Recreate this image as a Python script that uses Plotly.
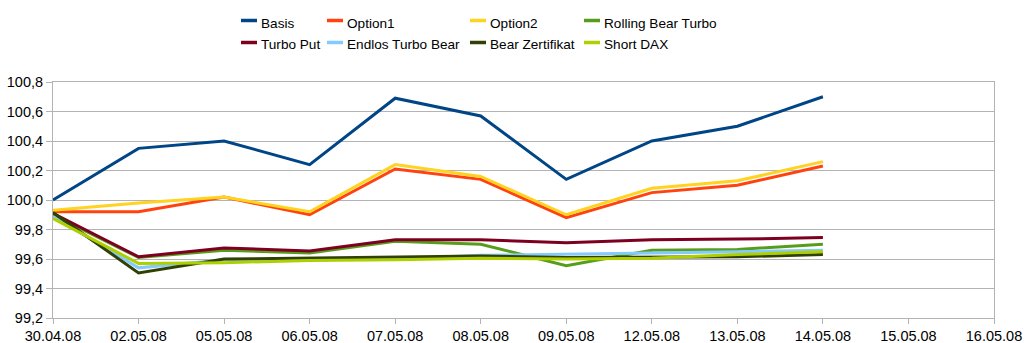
import plotly.graph_objects as go

all_dates = ["30.04.08", "02.05.08", "05.05.08", "06.05.08", "07.05.08", "08.05.08",
             "09.05.08", "12.05.08", "13.05.08", "14.05.08", "15.05.08", "16.05.08"]
data_dates = all_dates[:10]

basis = [100.00, 100.35, 100.40, 100.24, 100.69, 100.57, 100.14, 100.40, 100.50, 100.70]
option1 = [99.92, 99.92, 100.02, 99.90, 100.21, 100.14, 99.88, 100.05, 100.10, 100.23]
option2 = [99.93, 99.98, 100.02, 99.92, 100.24, 100.16, 99.90, 100.08, 100.13, 100.26]
rolling_bear_turbo = [99.90, 99.61, 99.66, 99.64, 99.72, 99.70, 99.555, 99.66, 99.665, 99.70]
turbo_put = [99.91, 99.615, 99.675, 99.655, 99.73, 99.73, 99.71, 99.73, 99.735, 99.745]
endlos_turbo_bear = [99.89, 99.54, 99.595, 99.60, 99.60, 99.625, 99.63, 99.64, 99.65, 99.66]
bear_zertifikat = [99.915, 99.505, 99.60, 99.605, 99.615, 99.62, 99.61, 99.615, 99.615, 99.63]
short_dax = [99.875, 99.57, 99.575, 99.59, 99.595, 99.605, 99.60, 99.605, 99.63, 99.65]

series = [
    ("Basis", basis, "#004586"),
    ("Option1", option1, "#FF420E"),
    ("Option2", option2, "#FFD320"),
    ("Rolling Bear Turbo", rolling_bear_turbo, "#579D1C"),
    ("Turbo Put", turbo_put, "#7E0021"),
    ("Endlos Turbo Bear", endlos_turbo_bear, "#83CAFF"),
    ("Bear Zertifikat", bear_zertifikat, "#314004"),
    ("Short DAX", short_dax, "#AECF00"),
]

W, H = 1029, 343
ML, MR, MT, MB = 53, 35, 82, 25
PW, PH = W - ML - MR, H - MT - MB
FONT = "Liberation Sans, Arial, sans-serif"


def px_x(p):
    return (p - ML) / PW


def px_y(p):
    return (H - MB - p) / PH


# manual legend layout (pixels): swatch left per column, row centers
col_swatch = [241, 327, 470, 584]
swatch_len = 16
text_gap = 3
row_swatch_y = [20.5, 42.5]
row_text_y = [23.5, 44.5]

fig = go.Figure()
shapes = []
annotations = []
for i, (name, vals, color) in enumerate(series):
    fig.add_trace(go.Scatter(
        x=data_dates, y=vals, name=name, mode="lines",
        line=dict(color=color, width=3), showlegend=False,
    ))
    col, row = i % 4, i // 4
    x0 = col_swatch[col]
    shapes.append(dict(
        type="line", xref="paper", yref="paper",
        x0=px_x(x0), x1=px_x(x0 + swatch_len),
        y0=px_y(row_swatch_y[row]), y1=px_y(row_swatch_y[row]),
        line=dict(color=color, width=3.5),
    ))
    annotations.append(dict(
        xref="paper", yref="paper",
        x=px_x(x0 + swatch_len + text_gap), y=px_y(row_text_y[row]),
        xanchor="left", yanchor="middle", showarrow=False,
        text=name, font=dict(family=FONT, size=13.6, color="black"),
        borderpad=0,
    ))

fig.update_layout(
    template="none",
    width=W, height=H,
    margin=dict(l=ML, r=MR, t=MT, b=MB, autoexpand=False),
    paper_bgcolor="white", plot_bgcolor="white",
    separators=",.",
    font=dict(family=FONT, size=14.5, color="black"),
    showlegend=False,
    shapes=shapes,
    annotations=annotations,
)

fig.update_xaxes(
    type="category", categoryorder="array", categoryarray=all_dates,
    range=[0, 11], showgrid=False, automargin=False,
    showline=True, linecolor="#b3b3b3", linewidth=1, mirror=True,
    ticks="outside", ticklen=5, tickcolor="#b3b3b3", tickwidth=1,
    tickfont=dict(family=FONT, size=14.5, color="black"),
)
fig.update_yaxes(
    range=[99.2, 100.8], dtick=0.2, tick0=99.2, tickformat=".1f",
    showgrid=True, gridcolor="#b3b3b3", gridwidth=1, automargin=False,
    showline=True, linecolor="#b3b3b3", linewidth=1, mirror=True,
    ticks="outside", ticklen=6, tickcolor="#b3b3b3", tickwidth=1,
    tickfont=dict(family=FONT, size=14.5, color="black"), zeroline=False,
)

fig.write_html("out.html")
